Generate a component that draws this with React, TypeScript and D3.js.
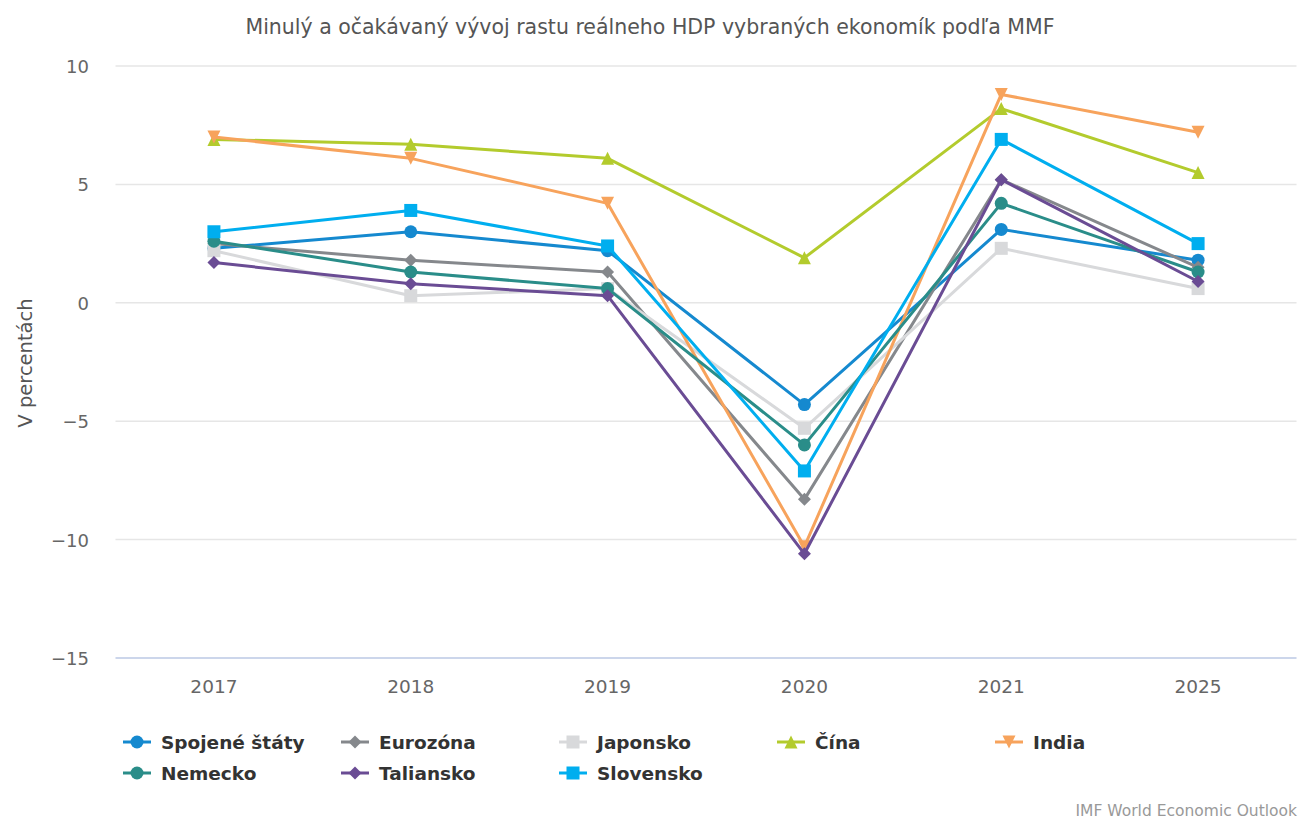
import * as d3 from 'd3';

const years = ['2017', '2018', '2019', '2020', '2021', '2025'];
const usa = [2.3, 3.0, 2.2, -4.3, 3.1, 1.8];
const eurozone = [2.5, 1.8, 1.3, -8.3, 5.2, 1.5];
const japan = [2.2, 0.3, 0.6, -5.3, 2.3, 0.6];
const china = [6.9, 6.7, 6.1, 1.9, 8.2, 5.5];
const india = [7.0, 6.1, 4.2, -10.3, 8.8, 7.2];
const germany = [2.6, 1.3, 0.6, -6.0, 4.2, 1.3];
const italy = [1.7, 0.8, 0.3, -10.6, 5.2, 0.9];
const slovakia = [3.0, 3.9, 2.4, -7.1, 6.9, 2.5];
const yTicks = [10, 5, 0, -5, -10, -15];

const seriesNames = ['Spojené štáty', 'Eurozóna', 'Japonsko', 'Čína', 'India', 'Nemecko', 'Taliansko', 'Slovensko'];
const seriesValues = [usa, eurozone, japan, china, india, germany, italy, slovakia];
const seriesColors = ['#1589cf', '#85888c', '#d8d9db', '#b3cb2d', '#f7a35c', '#2a8d89', '#6a4c94', '#00aeef'];
const seriesSymbols = ['circle', 'diamond', 'square', 'triangle', 'triangle-down', 'circle', 'diamond', 'square'];

const width = 1298;
const height = 819;
const margin = { top: 66, right: 1.5, bottom: 161, left: 115.5 };
const font = '"DejaVu Sans", "Open Sans", sans-serif';

function marker(type: string, cx: number, cy: number, color: string, r: number, key: string) {
  if (type === 'circle') return <circle key={key} cx={cx} cy={cy} r={r} fill={color} />;
  if (type === 'square') return <rect key={key} x={cx - r} y={cy - r} width={2 * r} height={2 * r} fill={color} />;
  if (type === 'diamond') {
    return <path key={key} d={`M${cx},${cy - r}L${cx + r},${cy}L${cx},${cy + r}L${cx - r},${cy}Z`} fill={color} />;
  }
  if (type === 'triangle') {
    return <path key={key} d={`M${cx},${cy - r}L${cx + r},${cy + r}L${cx - r},${cy + r}Z`} fill={color} />;
  }
  return <path key={key} d={`M${cx - r},${cy - r}L${cx + r},${cy - r}L${cx},${cy + r}Z`} fill={color} />;
}

export default function App() {
  const x = d3.scaleBand().domain(years).range([margin.left, width - margin.right]);
  const y = d3.scaleLinear().domain([-15, 10]).range([height - margin.bottom, margin.top]);
  const cx = (yr: string) => (x(yr) as number) + x.bandwidth() / 2;

  const line = d3.line<number>()
    .x((_, i) => cx(years[i]))
    .y(d => y(d));

  return (
    <svg width={width} height={height} style={{ position: 'absolute', left: 0, top: 0, background: '#fff' }} fontFamily={font}>
      <text x={650} y={34} textAnchor="middle" fontSize={20.5} fill="#555">
        Minulý a očakávaný vývoj rastu reálneho HDP vybraných ekonomík podľa MMF
      </text>

      {yTicks.map(t => (
        <g key={t}>
          <line x1={margin.left} x2={width - margin.right} y1={y(t)} y2={y(t)}
            stroke={t === -15 ? '#ccd6eb' : '#e6e6e6'} strokeWidth={t === -15 ? 2 : 1.5} />
          <text x={89} y={y(t) + 7} textAnchor="end" fontSize={18} fill="#666">
            {t < 0 ? `\u2212${Math.abs(t)}` : t}
          </text>
        </g>
      ))}

      <text transform={`translate(32,${363}) rotate(-90)`} textAnchor="middle" fontSize={19.5} fill="#555">
        V percentách
      </text>

      {years.map(yr => (
        <text key={yr} x={cx(yr)} y={693} textAnchor="middle" fontSize={18.5} fill="#666">{yr}</text>
      ))}

      {seriesValues.map((vals, s) => (
        <g key={seriesNames[s]}>
          <path d={line(vals) || ''} fill="none" stroke={seriesColors[s]} strokeWidth={3} strokeLinejoin="round" />
          {vals.map((v, i) => marker(seriesSymbols[s], cx(years[i]), y(v), seriesColors[s], 6.5, `${s}-${i}`))}
        </g>
      ))}

      {seriesNames.map((name, s) => {
        const col = s < 5 ? s : s - 5;
        const row = s < 5 ? 0 : 1;
        const lx = 123 + col * 218;
        const ly = 742 + row * 31;
        return (
          <g key={name}>
            <line x1={lx} x2={lx + 28} y1={ly} y2={ly} stroke={seriesColors[s]} strokeWidth={3} />
            {marker(seriesSymbols[s], lx + 14, ly, seriesColors[s], 6.5, `leg-${s}`)}
            <text x={lx + 38} y={ly + 7} fontSize={18.5} fontWeight="bold" fill="#333">{name}</text>
          </g>
        );
      })}

      <text x={1297} y={816} textAnchor="end" fontSize={15.5} fill="#999">IMF World Economic Outlook</text>
    </svg>
  );
}
